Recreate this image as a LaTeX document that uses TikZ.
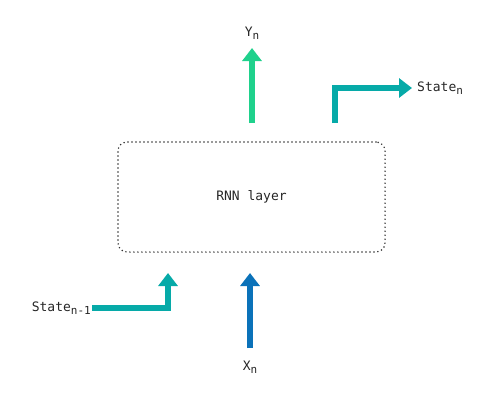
\documentclass[tikz,border=0pt]{standalone}
\usepackage{fontspec}
\setmonofont{DejaVu Sans Mono}
\usetikzlibrary{arrows.meta}
\definecolor{outgreen}{HTML}{1FD18C}
\definecolor{stateteal}{HTML}{06AAA8}
\definecolor{inblue}{HTML}{0B72B9}
\newcommand{\lowsub}[1]{\raisebox{-0.45ex}{\fontsize{11}{12}\selectfont #1}}
\begin{document}
\begin{tikzpicture}[x=1pt,y=-1pt,
  layer/.style={draw=black!80,line width=1.7pt,dash pattern=on 0pt off 4pt,line cap=round,rounded corners=9pt,minimum width=267pt,minimum height=110pt,text=black!85,font=\ttfamily\fontsize{13}{15}\selectfont},
  lbl/.style={text=black!85,font=\ttfamily\fontsize{13}{15}\selectfont,inner sep=1pt},
  flow/.style={line width=6.5pt,-{Triangle[width=19pt,length=13pt]}}]
\useasboundingbox (0,0) rectangle (500,400);
\node[layer] (rnn) at (251.5,197) {RNN layer};
\node[lbl] (yn) at (252,33) {Y\lowsub{n}};
\node[lbl,anchor=west] (stn) at (416,88) {State\lowsub{n}};
\node[lbl,anchor=east] (stp) at (92,308) {State\lowsub{n-1}};
\node[lbl] (xn) at (250,367) {X\lowsub{n}};
\coordinate (ytop) at (252,48);
\coordinate (ybot) at (252,123);
\coordinate (sbot) at (335,123);
\coordinate (stip) at (412,88);
\coordinate (ptip) at (168,273);
\coordinate (xtop) at (250,273);
\coordinate (xbot) at (250,348);
\draw[flow,draw=outgreen] (ybot)--(ytop);
\draw[flow,draw=stateteal] (sbot)|-(stip);
\draw[flow,draw=stateteal] (stp.east)-|(ptip);
\draw[flow,draw=inblue] (xbot)--(xtop);
\end{tikzpicture}
\end{document}
